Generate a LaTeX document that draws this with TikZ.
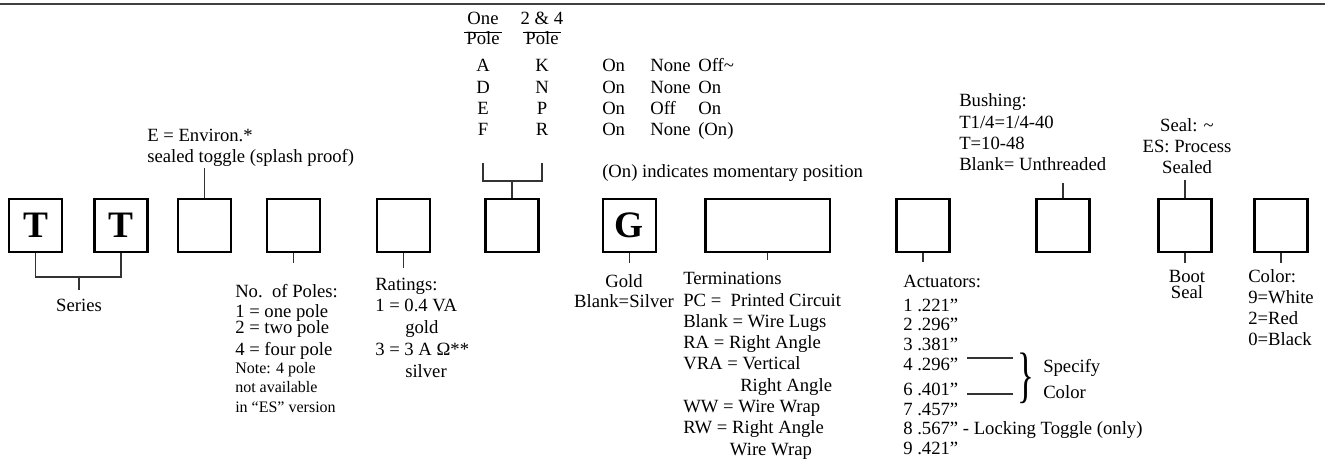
\documentclass[tikz,border=0pt]{standalone}
\usepackage{graphicx}
\usepackage{fontspec}
\setmainfont{Liberation Serif}
\begin{document}
\begin{tikzpicture}[x=0.75pt,y=-0.75pt,
  code/.style={draw,line width=1.9pt,minimum width=39.5pt,minimum height=39.5pt,inner sep=0pt,font=\fontsize{28}{30}\selectfont\bfseries},
  txt/.style={inner sep=0pt,align=left,anchor=base west},
  ctxt/.style={inner sep=0pt,align=center,anchor=base},
  tick/.style={line width=0.8pt,black!80}]
  \useasboundingbox (0,0) rectangle (1325,460);
  \draw[line width=1.5pt,black!75] (0,4) -- (1325,4);
  % code boxes
  \node[code] (t1) at (35.5,225.5) {T};
  \node[code] (t2) at (121,225.5) {T};
  \node[code] (env) at (204.5,225.5) {};
  \node[code] (pol) at (293.5,225.5) {};
  \node[code] (rat) at (403.5,225.5) {};
  \node[code] (fun) at (512,225.5) {};
  \node[code] (cont) at (629.5,225.5) {G};
  \node[code,minimum width=93.4pt] (term) at (767.5,225.5) {};
  \node[code] (act) at (923,225.5) {};
  \node[code] (bush) at (1063,225.5) {};
  \node[code] (boot) at (1185,225.5) {};
  \node[code] (col) at (1281,225.5) {};
  % texts (placed at the baseline of their last line)
  \begin{scope}[font=\fontsize{14}{16}\selectfont]
    \node[ctxt] (one) at (483,25) {One};
    \node[ctxt] (pole1) at (483,45) {Pole};
    \node[ctxt] (two) at (542,25) {2 \& 4};
    \node[ctxt] (pole2) at (542,45) {Pole};
    \draw ([xshift=-1.5pt]pole1.north west) -- ([xshift=1.5pt]pole1.north east);
    \draw ([xshift=-1.5pt]pole2.north west) -- ([xshift=1.5pt]pole2.north east);
    \node[ctxt,font=\fontsize{14}{16}\selectfont] (onep) at (483,136) {A\\D\\E\\F};
    \node[ctxt,font=\fontsize{14}{16}\selectfont] (twop) at (542,136) {K\\N\\P\\R};
    \node[txt,font=\fontsize{14}{16}\selectfont] (pos1) at (602,136) {On\\On\\On\\On};
    \node[txt,font=\fontsize{14}{16}\selectfont] (pos2) at (650,136) {None\\None\\Off\\None};
    \node[txt,font=\fontsize{14}{16}\selectfont] (pos3) at (698,136) {Off\textasciitilde\\On\\On\\(On)};
    \node[txt] (mom) at (602,177) {(On) indicates momentary position};
    \node[txt,font=\fontsize{14}{15.75}\selectfont] (envtxt) at (147,162) {E = Environ.*\\sealed toggle (splash proof)};
    \node[txt,font=\fontsize{14}{16}\selectfont] (bushtxt) at (959,171) {Bushing:\\T1/4=1/4-40\\T=10-48\\Blank= Unthreaded};
    \node[ctxt,font=\fontsize{14}{15.4}\selectfont] (sealtxt) at (1187,173) {Seal: \textasciitilde\\ES: Process\\Sealed};
    \node[ctxt] (series) at (79,311) {Series};
    \node[txt,font=\fontsize{14}{15.9}\selectfont] (poltxt) at (235,355) {No.\ \ of Poles:\\[-0.9pt]1 = one pole\\[-3.9pt]2 = two pole\\[0.6pt]4 = four pole};
    \node[txt,font=\fontsize{12}{14.6}\selectfont] (note) at (235,412) {Note: 4 pole\\not available\\in “ES” version};
    \node[txt,font=\fontsize{14}{16.3}\selectfont] (rattxt) at (375,377) {Ratings:\\1 = 0.4 VA\\\hspace*{22.5pt}gold\\3 = 3 A Ω**\\\hspace*{22.5pt}silver};
    \node[ctxt,font=\fontsize{14}{15}\selectfont] (gold) at (624,307) {Gold\\Blank=Silver};
    \node[txt,font=\fontsize{14}{15.94}\selectfont] (termtxt) at (683,455) {Terminations\\PC =\ \ Printed Circuit\\Blank = Wire Lugs\\RA = Right Angle\\VRA = Vertical\\\hspace*{42.75pt}Right Angle\\WW = Wire Wrap\\RW = Right Angle\\\hspace*{35pt}Wire Wrap};
    \node[txt,font=\fontsize{14}{14.9}\selectfont] (acttxt) at (903,415) {Actuators:\\[2.4pt]1 .221”\\2 .296”\\3 .381”\\4 .296”\\[3.5pt]6 .401”\\7 .457”};
    \node[txt,font=\fontsize{14}{14.9}\selectfont] (actmore) at (903,454) {8 .567” - Locking Toggle (only)\\9 .421”};
    \node[inner sep=0pt] (brc) at (1026,378) {\scalebox{0.57}[1]{\fontsize{46}{46}\selectfont\}}};
    \node[txt,font=\fontsize{14}{19.5}\selectfont] (spec) at (1043,398) {Specify\\Color};
    \node[ctxt,font=\fontsize{14}{12}\selectfont] (boottxt) at (1187,298) {Boot\\Seal};
    \node[txt,font=\fontsize{14}{15.75}\selectfont] (coltxt) at (1248,345) {Color:\\9=White\\2=Red\\0=Black};
  \end{scope}
  % connectors
  \coordinate (ser) at (79,277);
  \draw[tick] (t1.south) |- (ser) -| (t2.south);
  \draw[tick] (ser) -- ++(0,13);
  \coordinate (brk) at (512,181);
  \draw[tick] (onep.south |- 0,163) |- (brk) -| (twop.south |- 0,163);
  \draw[tick] (brk) -- (fun.north);
  \draw[tick] (env.north) -- ++(0,-30);
  \draw[tick] (pol.south) -- ++(0,10);
  \draw[tick] (rat.south) -- ++(0,15);
  \draw[tick] (cont.south) -- ++(0,10);
  \draw[tick] (term.south) -- ++(0,7);
  \draw[tick] (act.south) -- ++(0,9);
  \draw[tick] (bush.north) -- ++(0,-15);
  \draw[tick] (boot.north) -- ++(0,-18);
  \draw[tick] (boot.south) -- ++(0,10);
  \draw[tick] (col.south) -- ++(0,10);
  \coordinate (sp1) at (967,358);
  \coordinate (sp2) at (967,394);
  \draw[tick] (sp1) -- ([xshift=-3pt]brc.west |- sp1);
  \draw[tick] (sp2) -- ([xshift=-3pt]brc.west |- sp2);
\end{tikzpicture}
\end{document}
